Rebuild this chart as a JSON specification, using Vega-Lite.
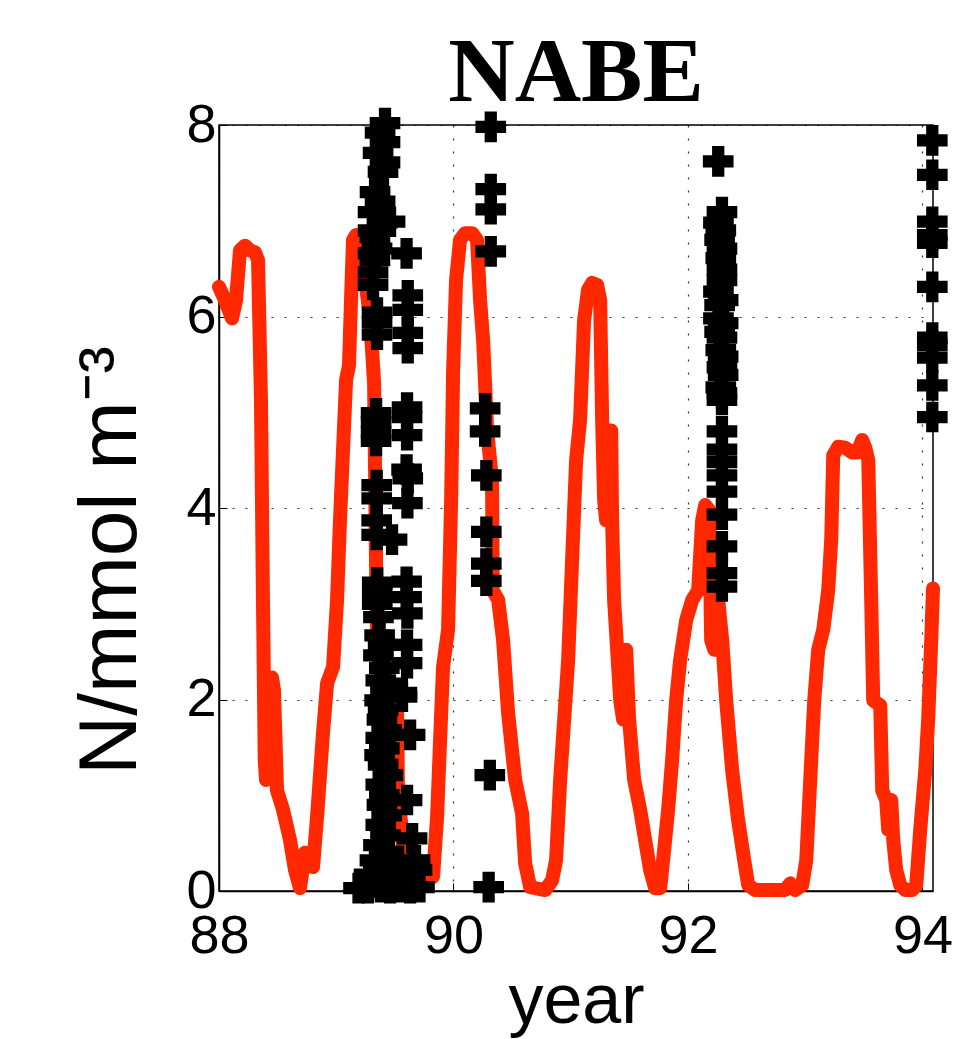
{
  "$schema": "https://vega.github.io/schema/vega-lite/v6.json",
  "width": 714,
  "height": 766,
  "autosize": {"type": "none"},
  "padding": {"left": 219, "top": 125, "right": 36, "bottom": 148},
  "background": "white",
  "title": {"text": "NABE", "font": "Liberation Serif", "fontSize": 92, "fontWeight": "bold", "color": "black", "anchor": "middle", "offset": -22},
  "config": {
    "view": {"stroke": "black", "strokeWidth": 1.5},
    "axis": {
      "labelFont": "Liberation Sans", "labelFontSize": 54, "labelColor": "black",
      "titleFont": "Liberation Sans", "titleColor": "black", "titleFontWeight": "normal",
      "domainColor": "black", "domainWidth": 1.5, "tickColor": "black",
      "gridColor": "black", "gridDash": [2, 11], "gridWidth": 1.2, "gridOpacity": 0.8
    }
  },
  "datasets": {
    "red": [
      {"t":88.000,"n":6.31},{"t":88.051,"n":6.17},{"t":88.111,"n":5.98},{"t":88.145,"n":6.17},{"t":88.179,"n":6.69},{"t":88.222,"n":6.74},{"t":88.265,"n":6.69},{"t":88.307,"n":6.67},{"t":88.333,"n":6.59},{"t":88.358,"n":5.13},{"t":88.375,"n":3.04},{"t":88.390,"n":1.37},{"t":88.401,"n":1.16},{"t":88.418,"n":2.20},{"t":88.452,"n":2.23},{"t":88.469,"n":2.10},{"t":88.495,"n":1.05},{"t":88.546,"n":0.85},{"t":88.606,"n":0.53},{"t":88.648,"n":0.22},{"t":88.691,"n":0.03},{"t":88.734,"n":0.40},{"t":88.802,"n":0.25},{"t":88.836,"n":0.77},{"t":88.887,"n":1.65},{"t":88.922,"n":2.17},{"t":88.973,"n":2.34},{"t":89.007,"n":3.04},{"t":89.032,"n":3.87},{"t":89.058,"n":4.61},{"t":89.084,"n":5.34},{"t":89.109,"n":5.49},{"t":89.126,"n":6.17},{"t":89.143,"n":6.80},{"t":89.169,"n":6.85},{"t":89.203,"n":6.75},{"t":89.246,"n":6.38},{"t":89.288,"n":6.00},{"t":89.323,"n":5.30},{"t":89.345,"n":2.80},{"t":89.357,"n":2.60},{"t":89.416,"n":2.20},{"t":89.519,"n":1.86},{"t":89.527,"n":0.98},{"t":89.561,"n":0.64},{"t":89.570,"n":0.46},{"t":89.630,"n":0.11},{"t":89.715,"n":0.06},{"t":89.783,"n":0.11},{"t":89.826,"n":0.15},{"t":89.860,"n":0.77},{"t":89.886,"n":1.58},{"t":89.911,"n":2.34},{"t":89.954,"n":2.73},{"t":89.980,"n":4.08},{"t":89.997,"n":5.44},{"t":90.022,"n":6.38},{"t":90.056,"n":6.80},{"t":90.099,"n":6.87},{"t":90.159,"n":6.87},{"t":90.201,"n":6.80},{"t":90.227,"n":6.17},{"t":90.253,"n":5.75},{"t":90.287,"n":4.81},{"t":90.329,"n":4.29},{"t":90.335,"n":3.14},{"t":90.381,"n":3.04},{"t":90.423,"n":2.62},{"t":90.466,"n":1.86},{"t":90.526,"n":1.16},{"t":90.585,"n":0.81},{"t":90.611,"n":0.29},{"t":90.654,"n":0.04},{"t":90.782,"n":0.01},{"t":90.841,"n":0.11},{"t":90.875,"n":0.32},{"t":90.910,"n":1.16},{"t":90.944,"n":1.79},{"t":90.978,"n":2.41},{"t":91.012,"n":3.46},{"t":91.046,"n":4.50},{"t":91.080,"n":4.92},{"t":91.114,"n":5.96},{"t":91.148,"n":6.28},{"t":91.183,"n":6.35},{"t":91.225,"n":6.33},{"t":91.251,"n":6.17},{"t":91.268,"n":4.92},{"t":91.285,"n":4.08},{"t":91.302,"n":3.87},{"t":91.319,"n":4.81},{"t":91.345,"n":4.81},{"t":91.353,"n":3.87},{"t":91.370,"n":3.04},{"t":91.396,"n":2.52},{"t":91.422,"n":1.99},{"t":91.447,"n":1.79},{"t":91.473,"n":2.52},{"t":91.498,"n":1.79},{"t":91.541,"n":1.16},{"t":91.592,"n":0.85},{"t":91.635,"n":0.53},{"t":91.677,"n":0.22},{"t":91.720,"n":0.03},{"t":91.763,"n":0.03},{"t":91.797,"n":0.43},{"t":91.831,"n":0.85},{"t":91.865,"n":1.37},{"t":91.899,"n":1.99},{"t":91.933,"n":2.41},{"t":91.985,"n":2.83},{"t":92.036,"n":3.04},{"t":92.087,"n":3.14},{"t":92.121,"n":3.87},{"t":92.147,"n":4.03},{"t":92.181,"n":3.98},{"t":92.198,"n":2.62},{"t":92.224,"n":2.52},{"t":92.258,"n":3.04},{"t":92.292,"n":2.62},{"t":92.326,"n":1.99},{"t":92.377,"n":1.26},{"t":92.428,"n":0.74},{"t":92.480,"n":0.32},{"t":92.514,"n":0.06},{"t":92.573,"n":0.01},{"t":92.829,"n":0.01},{"t":92.872,"n":0.08},{"t":92.915,"n":0.01},{"t":92.974,"n":0.06},{"t":93.009,"n":0.32},{"t":93.043,"n":1.16},{"t":93.077,"n":1.99},{"t":93.111,"n":2.52},{"t":93.154,"n":2.73},{"t":93.196,"n":3.14},{"t":93.222,"n":3.67},{"t":93.239,"n":4.55},{"t":93.282,"n":4.64},{"t":93.341,"n":4.63},{"t":93.401,"n":4.58},{"t":93.444,"n":4.58},{"t":93.486,"n":4.71},{"t":93.512,"n":4.63},{"t":93.538,"n":4.50},{"t":93.563,"n":3.04},{"t":93.580,"n":1.99},{"t":93.640,"n":1.94},{"t":93.657,"n":1.05},{"t":93.691,"n":0.95},{"t":93.708,"n":0.64},{"t":93.734,"n":0.95},{"t":93.751,"n":0.53},{"t":93.776,"n":0.22},{"t":93.811,"n":0.06},{"t":93.853,"n":0.01},{"t":93.913,"n":0.01},{"t":93.947,"n":0.06},{"t":93.981,"n":0.64},{"t":94.024,"n":1.26},{"t":94.049,"n":1.79},{"t":94.075,"n":2.62},{"t":94.090,"n":3.16}
    ],
    "obs": [
      {"t":89.416,"n":8.02},{"t":89.374,"n":7.92},{"t":89.416,"n":7.82},{"t":89.357,"n":7.71},{"t":89.416,"n":7.61},{"t":89.399,"n":7.51},{"t":89.331,"n":7.30},{"t":89.374,"n":7.20},{"t":89.314,"n":7.09},{"t":89.459,"n":6.99},{"t":89.391,"n":6.98},{"t":89.314,"n":6.90},{"t":89.330,"n":6.83},{"t":89.348,"n":6.71},{"t":89.314,"n":6.66},{"t":89.330,"n":6.59},{"t":89.314,"n":6.46},{"t":89.314,"n":6.33},{"t":89.348,"n":6.04},{"t":89.348,"n":5.94},{"t":89.348,"n":5.81},
      {"t":89.600,"n":6.66},{"t":89.610,"n":6.22},{"t":89.610,"n":6.07},{"t":89.610,"n":5.83},{"t":89.610,"n":5.67},{"t":89.604,"n":5.05},{"t":89.604,"n":4.95},{"t":89.604,"n":4.76},{"t":89.600,"n":4.40},{"t":89.610,"n":4.31},{"t":89.607,"n":4.05},{"t":89.600,"n":3.23},{"t":89.600,"n":3.07},{"t":89.607,"n":2.90},{"t":89.604,"n":2.57},{"t":89.604,"n":2.38},{"t":89.561,"n":2.03},{"t":89.630,"n":1.63},{"t":89.604,"n":0.95},{"t":89.647,"n":0.55},{"t":89.672,"n":0.32},{"t":89.689,"n":0.22},
      {"t":89.340,"n":4.99},{"t":89.340,"n":4.90},{"t":89.340,"n":4.79},{"t":89.340,"n":4.70},{"t":89.345,"n":4.24},{"t":89.345,"n":4.10},{"t":89.345,"n":3.87},{"t":89.345,"n":3.72},{"t":89.476,"n":3.67},{"t":89.350,"n":3.22},{"t":89.350,"n":3.12},{"t":89.350,"n":3.00},{"t":89.360,"n":2.86},
      {"t":89.370,"n":2.67},{"t":89.400,"n":2.57},{"t":89.360,"n":2.46},{"t":89.410,"n":2.33},{"t":89.380,"n":2.20},{"t":89.420,"n":2.10},{"t":89.560,"n":2.07},{"t":89.370,"n":1.99},{"t":89.400,"n":1.89},{"t":89.390,"n":1.79},{"t":89.430,"n":1.68},{"t":89.380,"n":1.60},{"t":89.410,"n":1.49},{"t":89.370,"n":1.42},{"t":89.400,"n":1.32},{"t":89.440,"n":1.21},{"t":89.380,"n":1.11},{"t":89.410,"n":1.00},{"t":89.390,"n":0.90},{"t":89.430,"n":0.79},{"t":89.380,"n":0.69},{"t":89.420,"n":0.58},{"t":89.360,"n":0.48},{"t":89.450,"n":0.41},{"t":89.330,"n":0.32},{"t":89.500,"n":0.30},{"t":89.400,"n":0.24},{"t":89.280,"n":0.17},{"t":89.470,"n":0.15},{"t":89.360,"n":0.09},{"t":89.550,"n":0.10},{"t":89.190,"n":0.03},{"t":89.270,"n":0.03},{"t":89.380,"n":0.04},{"t":89.460,"n":0.03},{"t":89.540,"n":0.04},{"t":89.630,"n":0.03},{"t":89.710,"n":0.04},
      {"t":90.318,"n":7.98},{"t":90.318,"n":7.33},{"t":90.318,"n":7.12},{"t":90.318,"n":6.68},{"t":90.270,"n":5.04},{"t":90.270,"n":4.80},{"t":90.280,"n":4.34},{"t":90.280,"n":3.75},{"t":90.280,"n":3.42},{"t":90.280,"n":3.24},{"t":90.310,"n":1.21},{"t":90.300,"n":0.04},
      {"t":92.258,"n":7.62},{"t":92.290,"n":7.09},{"t":92.260,"n":6.98},{"t":92.280,"n":6.90},{"t":92.270,"n":6.80},{"t":92.290,"n":6.71},{"t":92.280,"n":6.61},{"t":92.290,"n":6.49},{"t":92.290,"n":6.38},{"t":92.260,"n":6.26},{"t":92.300,"n":6.17},{"t":92.270,"n":6.12},{"t":92.260,"n":5.98},{"t":92.300,"n":5.93},{"t":92.270,"n":5.84},{"t":92.290,"n":5.78},{"t":92.280,"n":5.65},{"t":92.300,"n":5.58},{"t":92.290,"n":5.47},{"t":92.300,"n":5.39},{"t":92.280,"n":5.26},{"t":92.290,"n":5.20},{"t":92.290,"n":5.13},{"t":92.290,"n":4.80},{"t":92.290,"n":4.61},{"t":92.290,"n":4.48},{"t":92.290,"n":4.34},{"t":92.290,"n":4.17},{"t":92.290,"n":3.93},{"t":92.290,"n":3.60},{"t":92.290,"n":3.32},{"t":92.290,"n":3.18},
      {"t":94.084,"n":7.84},{"t":94.084,"n":7.48},{"t":94.084,"n":6.99},{"t":94.084,"n":6.85},{"t":94.084,"n":6.77},{"t":94.084,"n":6.31},{"t":94.084,"n":5.78},{"t":94.084,"n":5.70},{"t":94.084,"n":5.57},{"t":94.084,"n":5.28},{"t":94.084,"n":4.95}
    ]
  },
  "encoding": {
    "x": {"field": "t", "type": "quantitative",
      "scale": {"domain": [88, 94.09], "nice": false, "zero": false},
      "axis": {"values": [88, 90, 92, 94], "title": "year", "titleFontSize": 70, "titlePadding": 4,
        "tickSize": -8, "labelPadding": 26, "grid": true, "labelFlush": false}},
    "y": {"field": "n", "type": "quantitative",
      "scale": {"domain": [0, 8], "nice": false, "zero": false},
      "axis": {"values": [0, 2, 4, 6, 8], "title": "N/mmol m⁻³", "titleFontSize": 82,
        "titleX": -84, "titleY": 435, "titleBaseline": "alphabetic", "titleAngle": -90,
        "tickSize": -8, "labelPadding": 11, "grid": true}}
  },
  "layer": [
    {"data": {"name": "red"},
      "mark": {"type": "line", "color": "#ff2800", "strokeWidth": 14, "strokeJoin": "round", "strokeCap": "round", "clip": false}},
    {"data": {"name": "obs"},
      "mark": {"type": "point", "shape": "cross", "filled": true, "color": "black", "opacity": 1, "size": 940}}
  ]
}
